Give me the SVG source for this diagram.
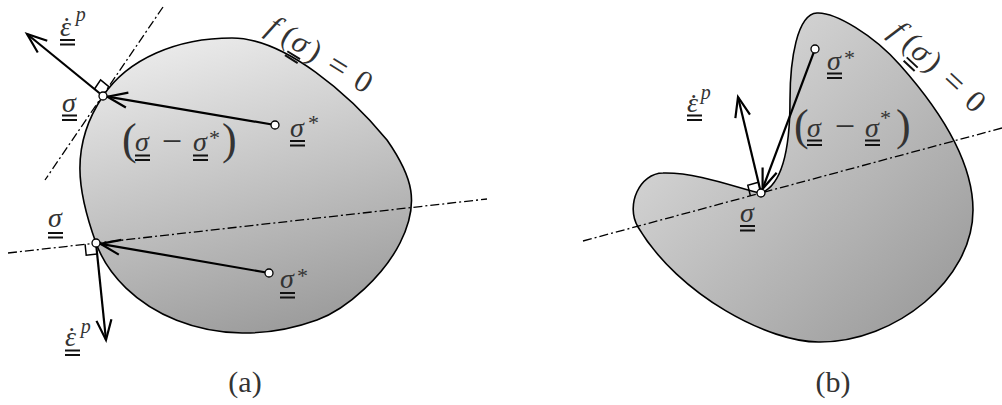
<svg xmlns="http://www.w3.org/2000/svg" width="1002" height="405" viewBox="0 0 1002 405">
<defs>
<linearGradient id="gA" x1="0.3" y1="0" x2="0.6" y2="1">
<stop offset="0" stop-color="#ebebeb"/><stop offset="1" stop-color="#9c9c9c"/>
</linearGradient>
<linearGradient id="gB" x1="0" y1="0" x2="1" y2="1">
<stop offset="0" stop-color="#e6e6e6"/><stop offset="1" stop-color="#959595"/>
</linearGradient>
<marker id="ah" markerUnits="userSpaceOnUse" orient="auto" viewBox="-22 -10 24 20" refX="0" refY="0" markerWidth="24" markerHeight="20" overflow="visible">
<path d="M-20,-7.5 L0,0 L-20,7.5" fill="none" stroke="#000" stroke-width="2.2"/>
</marker>
<path id="uu" d="M0,0 h15 M0,4.5 h15" stroke="#111" stroke-width="2"/>
</defs>
<style>
.region{stroke:#000;stroke-width:1.6}
.axis{fill:none;stroke:#000;stroke-width:1.3;stroke-dasharray:9 3 2 3}
.arrow{fill:none;stroke:#000;stroke-width:2.2;marker-end:url(#ah)}
.sq{fill:none;stroke:#000;stroke-width:1.5}
.pt{fill:#fff;stroke:#000;stroke-width:1.3}
.m{font-family:"Liberation Serif",serif;font-style:italic;font-size:28px;fill:#333}
.r{font-family:"Liberation Serif",serif;font-size:30px;fill:#333}
.sup{font-size:20px}
.dot{font-style:normal}
.ast{font-family:"Liberation Serif",serif;font-size:22px;fill:#333}
.big{font-family:"Liberation Serif",serif;font-size:44px;fill:#333}
.minus{font-family:"Liberation Serif",serif;font-size:36px;fill:#333;text-anchor:middle}
.c{text-anchor:middle}
</style>

<g id="region-a">
<path class="region" fill="url(#gA)" d="M103,96 C128,58.7 177,38 232,38 C285,38 350,95 387,140 C412.7,176.9 420.25,203 400,243 C384.25,274.2 348.5,308.5 317,320 C213.6,357.4 119.8,308.8 96,243 C77.3,191.3 69.5,145.7 103,96 Z"/>
</g>
<g id="region-b">
<path class="region" fill="url(#gB)" d="M761,193 C745,191 700,172 663,173 C640,173 625,205 638,227 C678.8,295.8 770,343 820,342 C895,342 973,280 973,210 C973,160 940,110 900,65 C873.6,35 835,12 817,13 C797,14 790,60 790,100 C790,150 782,185 761,193 Z"/>
</g>

<g id="connectors">
<line class="axis" x1="163" y1="7" x2="45" y2="180"/>
<line class="axis" x1="8" y1="253" x2="487" y2="199"/>
<line class="axis" x1="583" y1="241" x2="1002" y2="128"/>
<line class="arrow" x1="275" y1="125" x2="107.4" y2="96.7"/>
<line class="arrow" x1="103" y1="96" x2="27" y2="34"/>
<line class="arrow" x1="269" y1="273" x2="100.4" y2="243.8"/>
<line class="arrow" x1="96" y1="243" x2="106" y2="340"/>
<line class="arrow" x1="815" y1="49" x2="762.6" y2="188.8"/>
<line class="arrow" x1="761" y1="193" x2="738" y2="97"/>
<polyline class="sq" points="94.5,89 100.6,79.9 109.1,86.9"/>
<polyline class="sq" points="85.1,244.2 86.2,255.2 97.1,253.9"/>
<polyline class="sq" points="750.4,195.9 747.8,185.2 758.4,182.3"/>
</g>

<g id="point-a-sigma-top"><circle class="pt" cx="103" cy="96" r="4"/></g>
<g id="point-a-star-top"><circle class="pt" cx="275" cy="125" r="4"/></g>
<g id="point-a-sigma-low"><circle class="pt" cx="96" cy="243" r="4"/></g>
<g id="point-a-star-low"><circle class="pt" cx="269" cy="273" r="4"/></g>
<g id="point-b-star"><circle class="pt" cx="815" cy="49" r="4"/></g>
<g id="point-b-sigma"><circle class="pt" cx="761" cy="193" r="4"/></g>

<g id="label-a-eps-top">
<text class="m" x="60" y="36">ε<tspan class="dot" dx="-9" dy="0">˙</tspan><tspan class="sup" dx="4.4" dy="-15">p</tspan></text>
<use href="#uu" x="60" y="40"/>
</g>
<g id="label-a-sigma-top">
<text class="m" x="62" y="112">σ</text><use href="#uu" x="62" y="115.5"/>
</g>
<g id="label-a-diff">
<text class="big" x="122" y="154">(</text>
<text class="m" x="135" y="151">σ</text><use href="#uu" x="135" y="155.5"/>
<text class="minus" x="172" y="153">−</text>
<text class="m" x="193" y="151">σ</text><use href="#uu" x="193" y="155.5"/>
<text class="ast" x="209" y="145">*</text>
<text class="big" x="222" y="154">)</text>
</g>
<g id="label-a-star-top">
<text class="m" x="290" y="137">σ</text><text class="ast" x="308" y="130">*</text>
<use href="#uu" x="290" y="141"/>
</g>
<g id="label-a-sigma-low">
<text class="m" x="48" y="227">σ</text><use href="#uu" x="48" y="233"/>
</g>
<g id="label-a-star-low">
<text class="m" x="280" y="288">σ</text><text class="ast" x="297" y="283">*</text>
<use href="#uu" x="280" y="293"/>
</g>
<g id="label-a-eps-low">
<text class="m" x="65" y="346">ε<tspan class="dot" dx="-9" dy="0">˙</tspan><tspan class="sup" dx="4.4" dy="-13">p</tspan></text>
<use href="#uu" x="65" y="350.5"/>
</g>
<g id="label-a-f" transform="translate(273,27) rotate(32)">
<text class="m c" style="font-size:31px" x="0" y="8.5">f</text>
<text class="r c" style="font-size:31px" x="18" y="8.5">(</text>
<text class="m c" style="font-size:31px" x="32" y="8.5">σ</text>
<text class="r c" style="font-size:31px" x="48.5" y="8.5">)</text>
<text class="r c" style="font-size:34px" x="76" y="9.5">=</text>
<text class="r c" style="font-size:31px" x="105.5" y="8.5">0</text>
<use href="#uu" x="25" y="13"/>
</g>
<g id="caption-a"><text class="r c" x="245" y="392">(a)</text></g>

<g id="label-b-eps">
<text class="m" x="687" y="112">ε<tspan class="dot" dx="-9" dy="1">˙</tspan><tspan class="sup" dx="2.4" dy="-14">p</tspan></text>
<use href="#uu" x="687" y="115.5"/>
</g>
<g id="label-b-star">
<text class="m" x="827" y="70">σ</text><text class="ast" x="844" y="65">*</text>
<use href="#uu" x="827" y="73.5"/>
</g>
<g id="label-b-diff">
<text class="big" x="794" y="140">(</text>
<text class="m" x="807" y="137">σ</text><use href="#uu" x="807" y="140.5"/>
<text class="minus" x="845" y="138">−</text>
<text class="m" x="865" y="137">σ</text><use href="#uu" x="865" y="140.5"/>
<text class="ast" x="880" y="125">*</text>
<text class="big" x="896" y="140">)</text>
</g>
<g id="label-b-sigma">
<text class="m" x="740" y="222">σ</text><use href="#uu" x="740" y="226"/>
</g>
<g id="label-b-f" transform="translate(899,29) rotate(43)">
<text class="m c" style="font-size:31px" x="0" y="11">f</text>
<text class="r c" style="font-size:31px" x="18" y="11">(</text>
<text class="m c" style="font-size:31px" x="32" y="11">σ</text>
<text class="r c" style="font-size:31px" x="48.5" y="11">)</text>
<text class="r c" style="font-size:34px" x="76" y="12">=</text>
<text class="r c" style="font-size:31px" x="105.5" y="11">0</text>
<use href="#uu" x="25" y="15.5"/>
</g>
<g id="caption-b"><text class="r c" x="833" y="392">(b)</text></g>
</svg>
